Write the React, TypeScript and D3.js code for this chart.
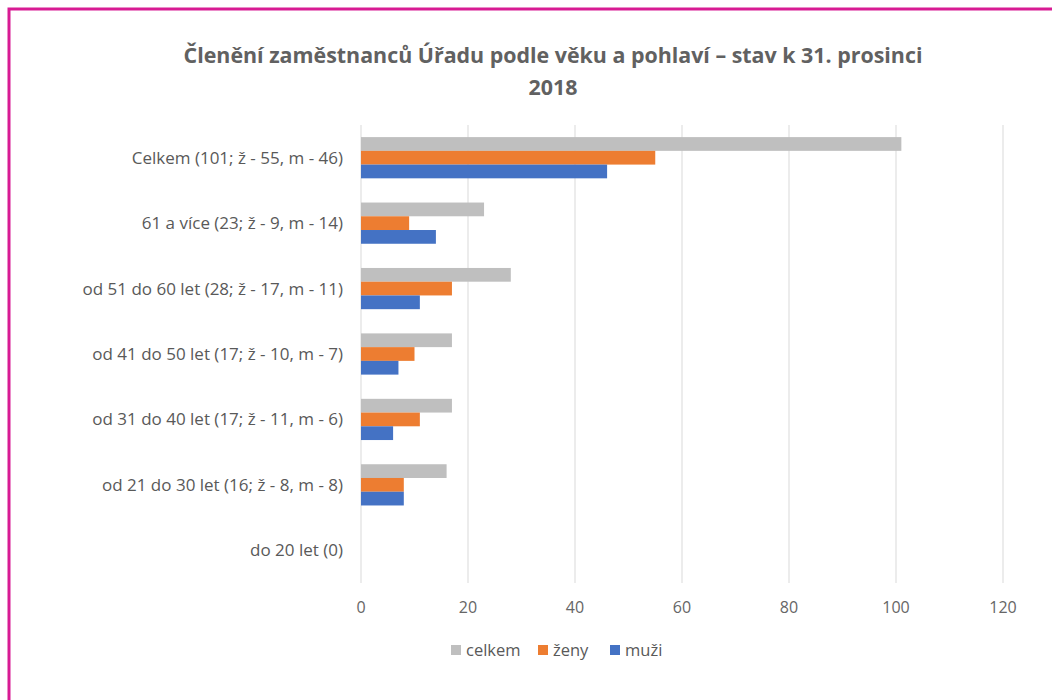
import React from 'react';
import * as d3 from 'd3';

const categories = [
  'Celkem (101; ž - 55, m - 46)',
  '61 a více (23; ž - 9, m - 14)',
  'od 51 do 60 let (28; ž - 17, m - 11)',
  'od 41 do 50 let (17; ž - 10, m - 7)',
  'od 31 do 40 let (17; ž - 11, m - 6)',
  'od 21 do 30 let (16; ž - 8, m - 8)',
  'do 20 let (0)',
];
const celkem = [101, 23, 28, 17, 17, 16, 0];
const zeny = [55, 9, 17, 10, 11, 8, 0];
const muzi = [46, 14, 11, 7, 6, 8, 0];
const xTicks = [0, 20, 40, 60, 80, 100, 120];
const seriesNames = ['celkem', 'ženy', 'muži'];
const seriesColors = ['#bfbfbf', '#ed7d31', '#4472c4'];
const titleLines = [
  'Členění zaměstnanců Úřadu podle věku a pohlaví – stav k 31. prosinci',
  '2018',
];

const W = 1052;
const H = 700;
const FONT = '"Open Sans", sans-serif';

export default function App() {
  const x = d3.scaleLinear().domain([0, 120]).range([361, 1003]);
  const y = d3.scaleBand().domain(categories).range([125, 583]).paddingInner(0.37).paddingOuter(0.185);
  const inner = d3.scaleBand().domain(seriesNames).range([0, y.bandwidth()]);
  const values = [celkem, zeny, muzi];

  return (
    <svg width={W} height={H} style={{ position: 'absolute', left: 0, top: 0, background: '#fff' }} fontFamily={FONT}>
      <rect x={0} y={0} width={W} height={H} fill="#fff" />
      <rect x={9} y={9} width={W + 50} height={H + 50} fill="none" stroke="#d81b93" strokeWidth={3} />

      {titleLines.map((t, i) => (
        <text key={i} x={553} y={63 + i * 32} textAnchor="middle" fontSize={21.4} fontWeight="bold" fill="#616161">
          {t}
        </text>
      ))}

      {xTicks.map(t => (
        <g key={t}>
          <line x1={x(t)} x2={x(t)} y1={125} y2={583} stroke="#d9d9d9" strokeWidth={1} />
          <text x={x(t)} y={613} textAnchor="middle" fontSize={16} fill="#666666">{t}</text>
        </g>
      ))}

      {categories.map((c, i) => (
        <g key={c}>
          <text x={343} y={(y(c) ?? 0) + y.bandwidth() / 2 + 6} textAnchor="end" fontSize={17} fill="#595959">
            {c}
          </text>
          {values.map((vals, s) => (
            vals[i] > 0 ? (
              <rect
                key={s}
                x={x(0)}
                y={(y(c) ?? 0) + (inner(seriesNames[s]) ?? 0)}
                width={x(vals[i]) - x(0)}
                height={inner.bandwidth()}
                fill={seriesColors[s]}
              />
            ) : null
          ))}
        </g>
      ))}

      {seriesNames.map((n, i) => {
        const lx = [451, 538, 610][i];
        return (
          <g key={n}>
            <rect x={lx} y={645} width={10} height={10} fill={seriesColors[i]} />
            <text x={lx + 15} y={656} fontSize={16.5} fill="#595959">{n}</text>
          </g>
        );
      })}
    </svg>
  );
}
